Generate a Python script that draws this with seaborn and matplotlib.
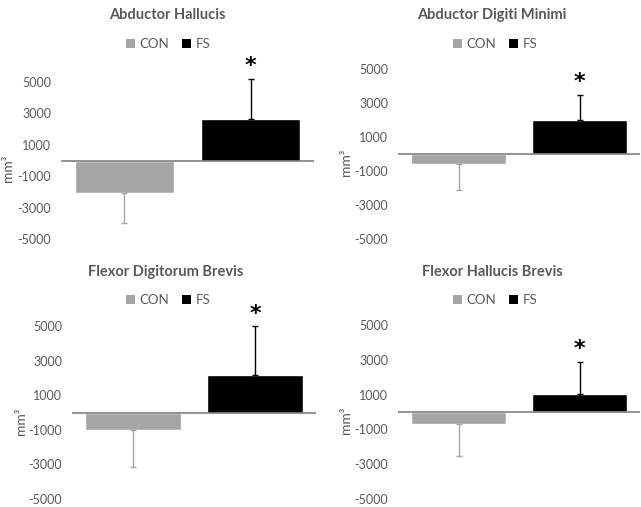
import matplotlib
matplotlib.use("Agg")
import matplotlib.pyplot as plt
import seaborn as sns
import pandas as pd
from matplotlib.patches import Patch

titles = ["Abductor Hallucis", "Abductor Digiti Minimi",
          "Flexor Digitorum Brevis", "Flexor Hallucis Brevis"]
groups = ["CON", "FS"]
con_means = [-2050, -590, -1010, -670]
con_sd = [1950, 1510, 2130, 1850]
fs_means = [2670, 2000, 2160, 1030]
fs_sd = [2530, 1490, 2840, 1870]
yticks = [-5000, -3000, -1000, 1000, 3000, 5000]
ytick_labels = ["-5000", "-3000", "-1000", "1000", "3000", "5000"]

colors = {"CON": "#A5A5A5", "FS": "#000000"}
text_color = "#595959"

sns.set_theme(style="white")
plt.rcParams["font.family"] = ["Lato", "DejaVu Sans"]

W, H = 641, 507
fig = plt.figure(figsize=(W / 100, H / 100), dpi=100)

# axes rectangles in pixels: left, top, right, bottom
rects = [(61, 82, 314, 239), (398, 69, 640, 239),
         (72, 326, 316, 499), (398, 325, 640, 499)]
title_pos = [(167, 15), (492, 15), (166, 272), (492, 272)]
legend_pos = [(168, 44), (495, 44), (168, 300), (495, 300)]
ylabel_px = [47, 46, 45, 46]

for i in range(4):
    l, t, r, b = rects[i]
    ax = fig.add_axes([l / W, 1 - b / H, (r - l) / W, (b - t) / H])
    df = pd.DataFrame({"group": groups, "value": [con_means[i], fs_means[i]]})
    sns.barplot(data=df, x="group", y="value", hue="group", order=groups,
                hue_order=groups, palette=colors, width=0.78, ax=ax,
                legend=False, errorbar=None, saturation=1)
    # one-sided error bars
    e1 = ax.errorbar([0], [con_means[i]], yerr=[[con_sd[i]], [0]], fmt="none",
                     ecolor=colors["CON"], elinewidth=1, capsize=2.5, capthick=1, zorder=3)
    e2 = ax.errorbar([1], [fs_means[i]], yerr=[[0], [fs_sd[i]]], fmt="none",
                     ecolor=colors["FS"], elinewidth=1, capsize=2.5, capthick=1, zorder=3)
    for e in (e1, e2):
        for art in e.lines[1] + e.lines[2]:
            art.set_clip_on(False)
    ax.annotate("*", xy=(1, fs_means[i] + fs_sd[i]), xytext=(0, 9),
                textcoords="offset points", ha="center", va="center",
                fontsize=16, fontweight="bold", color="black", family="DejaVu Sans",
                annotation_clip=False)
    ax.axhline(0, color="#7F7F7F", lw=1.2, zorder=4)
    ax.set_ylim(-5000, 5000)
    ax.set_xlim(-0.5, 1.5)
    ax.set_yticks(yticks)
    ax.set_yticklabels(ytick_labels)
    ax.tick_params(axis="y", length=0, pad=7, labelsize=9, labelcolor=text_color)
    ax.set_xticks([])
    ax.set_xlabel("")
    ax.set_ylabel("mm³", color=text_color, fontsize=10)
    ax.yaxis.set_label_coords(-ylabel_px[i] / (r - l), 0.45)
    for s in ax.spines.values():
        s.set_visible(False)
    ax.patch.set_alpha(0)

    tx, ty = title_pos[i]
    fig.text(tx / W, 1 - ty / H, titles[i], ha="center", va="center",
             fontsize=10.5, fontweight="bold", color=text_color)
    lx, ly = legend_pos[i]
    handles = [Patch(facecolor=colors[g], edgecolor="none", label=g) for g in groups]
    fig.legend(handles=handles, loc="center", bbox_to_anchor=(lx / W, 1 - ly / H),
               ncol=2, frameon=False, fontsize=9.5, handlelength=0.7,
               handleheight=0.7, handletextpad=0.3, columnspacing=1.0,
               labelcolor=text_color)

fig.savefig("out.png", dpi=100)
